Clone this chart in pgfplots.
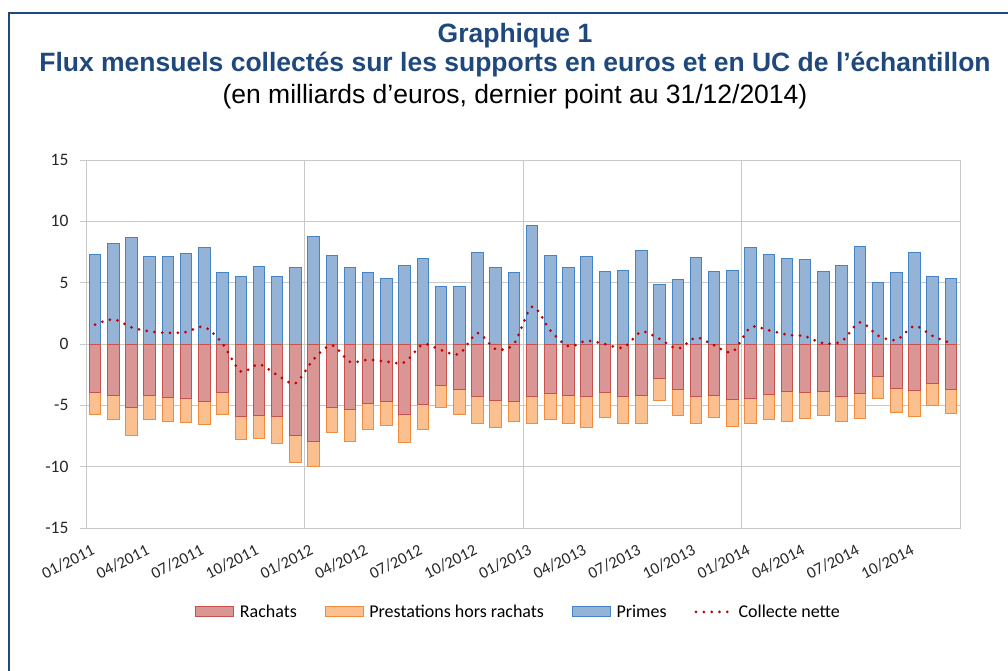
\documentclass[border=0pt]{standalone}
\usepackage{fontspec}
\setmainfont{Liberation Sans}
\newfontfamily\carlito{Carlito}
\usepackage{pgfplots}
\usepackage{pgfplotstable}
\pgfplotsset{compat=1.18}

\definecolor{titleblue}{RGB}{31,73,125}
\definecolor{gridgray}{RGB}{200,200,200}
\definecolor{primesfill}{RGB}{149,179,215}
\definecolor{primesdraw}{RGB}{68,132,196}
\definecolor{rachfill}{RGB}{217,150,148}
\definecolor{rachdraw}{RGB}{200,80,77}
\definecolor{prestfill}{RGB}{250,192,143}
\definecolor{prestdraw}{RGB}{240,140,60}
\definecolor{netred}{RGB}{192,0,0}
\definecolor{ticktext}{RGB}{38,38,38}

% x: month index (0 = 01/2011); total = rachats + prestations hors rachats
\pgfplotstableread{
x primes rachats total net
0 7.31 -3.99 -5.73 1.58
1 8.18 -4.16 -6.17 2.01
2 8.70 -5.19 -7.47 1.36
3 7.12 -4.21 -6.17 1.03
4 7.12 -4.38 -6.28 0.90
5 7.36 -4.48 -6.39 0.98
6 7.88 -4.65 -6.58 1.39
7 5.82 -3.94 -5.73 0.03
8 5.49 -5.95 -7.77 -2.23
9 6.28 -5.84 -7.69 -1.66
10 5.54 -5.95 -8.10 -2.53
11 6.22 -7.42 -9.70 -3.20
12 8.80 -7.91 -9.97 -1.25
13 7.20 -5.19 -7.23 -0.10
14 6.25 -5.30 -7.91 -1.45
15 5.82 -4.81 -7.01 -1.28
16 5.30 -4.70 -6.68 -1.44
17 6.39 -5.73 -8.02 -1.50
18 6.96 -4.92 -6.96 -0.03
19 4.67 -3.40 -5.19 -0.49
20 4.67 -3.70 -5.76 -0.82
21 7.50 -4.32 -6.47 0.90
22 6.22 -4.62 -6.82 -0.43
23 5.82 -4.65 -6.33 0.00
24 9.62 -4.29 -6.47 3.04
25 7.20 -4.05 -6.17 1.11
26 6.22 -4.16 -6.49 -0.19
27 7.12 -4.27 -6.79 0.27
28 5.92 -3.94 -6.01 0.00
29 6.03 -4.27 -6.49 -0.30
30 7.66 -4.21 -6.44 1.00
31 4.84 -2.83 -4.59 0.41
32 5.27 -3.70 -5.84 -0.38
33 7.09 -4.27 -6.47 0.52
34 5.92 -4.16 -5.98 -0.11
35 6.01 -4.54 -6.71 -0.65
36 7.88 -4.48 -6.47 1.36
37 7.31 -4.10 -6.17 1.11
38 6.98 -3.89 -6.28 0.76
39 6.88 -3.94 -6.11 0.62
40 5.87 -3.89 -5.84 0.05
41 6.41 -4.24 -6.33 0.22
42 7.91 -4.02 -6.06 1.77
43 5.03 -2.66 -4.43 0.68
44 5.82 -3.61 -5.57 0.33
45 7.47 -3.80 -5.95 1.47
46 5.49 -3.23 -5.03 0.65
47 5.38 -3.72 -5.68 0.05
}\datatable

\begin{document}
\begin{tikzpicture}[x=1pt,y=1pt]
\path[use as bounding box] (0,0) rectangle (1008,670);
% frame
\draw[titleblue, line width=2.5pt] (9,-10) -- (9,657) -- (1020,657);
% titles
\node[anchor=base, text=titleblue, inner sep=0pt] at (515,627)
  {\fontsize{26.5}{30}\selectfont\bfseries Graphique 1};
\node[anchor=base, text=titleblue, inner sep=0pt] at (515,598)
  {\fontsize{26.5}{30}\selectfont\bfseries Flux mensuels collectés sur les supports en euros et en UC de l’échantillon};
\node[anchor=base, text=black, inner sep=0pt] at (515,566)
  {\fontsize{26.5}{30}\selectfont (en milliards d’euros, dernier point au 31/12/2014)};

\begin{axis}[
  at={(86pt,142pt)}, anchor=south west,
  scale only axis, width=874pt, height=368pt,
  xmin=-0.5, xmax=47.5, ymin=-15, ymax=15,
  axis line style={gridgray, line width=1pt},
  ytick={-15,-10,-5,0,5,10,15},
  yticklabels={-15,-10,-5,0,5,10,15},
  ymajorgrids, grid style={gridgray, line width=1pt},
  ytick pos=left, tick align=outside,
  major tick length=6pt,
  ytick style={gridgray, line width=1pt},
  xtick={0,3,...,45},
  xticklabels={01/2011,04/2011,07/2011,10/2011,01/2012,04/2012,07/2012,10/2012,01/2013,04/2013,07/2013,10/2013,01/2014,04/2014,07/2014,10/2014},
  xtick style={draw=none},
  extra x ticks={11.5,23.5,35.5},
  extra x tick labels={},
  extra x tick style={grid=major, xtick style={draw=none}},
  yticklabel style={font=\carlito\fontsize{17.5}{17.5}\selectfont, text=ticktext, xshift=-8pt},
  xticklabel style={font=\carlito\fontsize{16.5}{16.5}\selectfont, text=ticktext, rotate=27, anchor=north east, xshift=-5pt, yshift=-3pt},
  legend columns=4,
  legend style={draw=none, fill=none, font=\carlito\fontsize{18}{18}\selectfont,
    at={(0.495,-0.228)}, anchor=center,
    /tikz/every even column/.append style={column sep=26pt}},
  legend cell align=left,
]
\addlegendimage{legend image code/.code={\path[draw=none,fill=none] (0pt,0pt) -- (42pt,0pt);\draw[fill=rachfill, draw=rachdraw, line width=1pt] (0pt,-5pt) rectangle (38pt,5pt);}}
\addlegendentry{Rachats}
\addlegendimage{legend image code/.code={\path[draw=none,fill=none] (0pt,0pt) -- (42pt,0pt);\draw[fill=prestfill, draw=prestdraw, line width=1pt] (0pt,-5pt) rectangle (38pt,5pt);}}
\addlegendentry{Prestations hors rachats}
\addlegendimage{legend image code/.code={\path[draw=none,fill=none] (0pt,0pt) -- (42pt,0pt);\draw[fill=primesfill, draw=primesdraw, line width=1pt] (0pt,-5pt) rectangle (38pt,5pt);}}
\addlegendentry{Primes}
\addlegendimage{legend image code/.code={\path[draw=none,fill=none] (0pt,0pt) -- (42pt,0pt);\draw[netred, line width=3pt, line cap=round, dash pattern=on 0pt off 7.8pt] (1.5pt,0pt) -- (38pt,0pt);}}
\addlegendentry{Collecte nette}

\addplot[ybar, bar width=11.5pt, bar shift=0pt, fill=primesfill, draw=primesdraw, line width=1pt, forget plot] table[x=x, y=primes] {\datatable};
\addplot[ybar, bar width=11.5pt, bar shift=0pt, fill=prestfill, draw=prestdraw, line width=1pt, forget plot] table[x=x, y=total] {\datatable};
\addplot[ybar, bar width=11.5pt, bar shift=0pt, fill=rachfill, draw=rachdraw, line width=1pt, forget plot] table[x=x, y=rachats] {\datatable};
\addplot[smooth, netred, line width=3pt, line cap=round, dash pattern=on 0pt off 7.8pt, forget plot] table[x=x, y=net] {\datatable};
\end{axis}
\end{tikzpicture}
\end{document}
